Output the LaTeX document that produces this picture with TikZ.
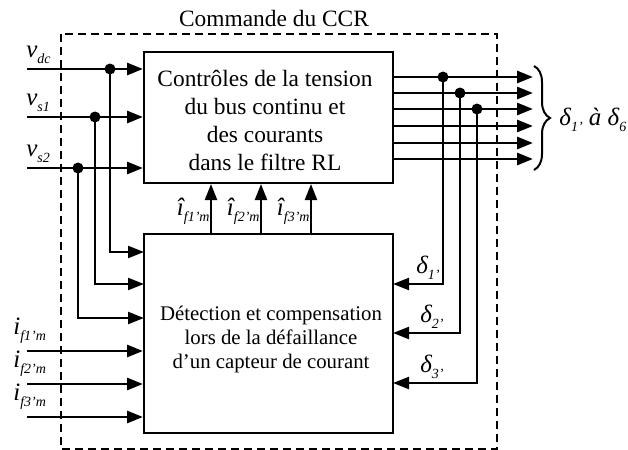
\documentclass[tikz,border=0pt]{standalone}
\usepackage{fontspec}
\setmainfont{Liberation Serif}
\usetikzlibrary{arrows.meta,decorations.pathreplacing,calc}
\newcommand\mysub[1]{\raisebox{-0.5ex}{\fontsize{7}{8}\selectfont\itshape #1}}
\begin{document}
\begin{tikzpicture}[x=0.5pt,y=-0.5pt,
  box/.style={draw,line width=1pt,minimum width=124.5pt,inner sep=0pt},
  txt/.style={inner sep=0pt,align=center},
  sig/.style={line width=1.4pt,-{Triangle[length=8pt,width=6pt]}},
  fb/.style={line width=1.1pt,-{Triangle[length=8pt,width=6pt]}},
  dot/.style={circle,fill,inner sep=0pt,minimum size=5.5pt},
  lab/.style={inner sep=0pt,font=\fontsize{12.5}{14}\selectfont\itshape},
  frame/.style={draw,line width=1pt,dash pattern=on 4pt off 2.5pt}
]
\useasboundingbox (0,0) rectangle (628,450);

% frame and title
\draw[frame] (61,34) rectangle (497,449);
\node[font=\fontsize{11.7}{13}\selectfont] (title) at (274,18) {Commande du CCR};

% blocks
\node[box,minimum height=65.5pt] (ctrl) at (268.5,117.5) {};
\node[txt,font=\fontsize{11.7}{14}\selectfont] (ctrltxt) at (265,120)
  {Contrôles de la tension\\du bus continu et\\des courants\\dans le filtre RL};
\node[box,minimum height=99.5pt] (det) at (268.5,333.5) {};
\node[txt,font=\fontsize{10.4}{12}\selectfont] (dettxt) at (271,339)
  {Détection et compensation\\lors de la défaillance\\d’un capteur de courant};

% voltage inputs
\coordinate (vdc) at (27,69);
\coordinate (vs1) at (27,117);
\coordinate (vs2) at (27,168);
\draw[sig] (vdc) -- (vdc -| ctrl.west);
\draw[sig] (vs1) -- (vs1 -| ctrl.west);
\draw[sig] (vs2) -- (vs2 -| ctrl.west);
\node[lab,anchor=south west] (lvdc) at (26,64) {v\mysub{dc}};
\node[lab,anchor=south west] (lvs1) at (26,112) {v\mysub{s1}};
\node[lab,anchor=south west] (lvs2) at (26,163) {v\mysub{s2}};

\node[dot] (dv1) at (110,69) {};
\node[dot] (dv2) at (95,117) {};
\node[dot] (dv3) at (78,168) {};
\coordinate (ev1) at (144,252);
\coordinate (ev2) at (144,284);
\coordinate (ev3) at (144,318);
\draw[fb] (dv1.center) |- (ev1);
\draw[fb] (dv2.center) |- (ev2);
\draw[fb] (dv3.center) |- (ev3);

% current inputs
\coordinate (if1) at (27,351);
\coordinate (if2) at (27,384);
\coordinate (if3) at (27,417);
\draw[sig] (if1) -- (if1 -| det.west);
\draw[sig] (if2) -- (if2 -| det.west);
\draw[sig] (if3) -- (if3 -| det.west);
\node[lab,anchor=south west] (lif1) at (13,344) {i\mysub{f1’m}};
\node[lab,anchor=south west] (lif2) at (13,377) {i\mysub{f2’m}};
\node[lab,anchor=south west] (lif3) at (13,410) {i\mysub{f3’m}};

% estimated currents
\coordinate (h1) at (211,0);
\coordinate (h2) at (261,0);
\coordinate (h3) at (311,0);
\draw[fb] (det.north -| h1) -- (ctrl.south -| h1);
\draw[fb] (det.north -| h2) -- (ctrl.south -| h2);
\draw[fb] (det.north -| h3) -- (ctrl.south -| h3);
\node[lab,anchor=south east] (lh1) at (210,225) {î\mysub{f1’m}};
\node[lab,anchor=south east] (lh2) at (260,225) {î\mysub{f2’m}};
\node[lab,anchor=south east] (lh3) at (310,225) {î\mysub{f3’m}};

% switching outputs
\coordinate (o1) at (533,77);
\coordinate (o2) at (533,93);
\coordinate (o3) at (533,109);
\coordinate (o4) at (533,126);
\coordinate (o5) at (533,143);
\coordinate (o6) at (533,159);
\foreach \k in {1,...,6}{\draw[sig] (ctrl.east |- o\k) -- (o\k);}
\node[dot] (do1) at (443,77) {};
\node[dot] (do2) at (460,93) {};
\node[dot] (do3) at (477,109) {};
\coordinate (ed1) at (393,284);
\coordinate (ed2) at (393,333);
\coordinate (ed3) at (393,383);
\draw[fb] (do1.center) |- (ed1);
\draw[fb] (do2.center) |- (ed2);
\draw[fb] (do3.center) |- (ed3);
\node[lab,anchor=south] (ld1) at (428,280) {δ\mysub{1’}};
\node[lab,anchor=south] (ld2) at (432,329) {δ\mysub{2’}};
\node[lab,anchor=south] (ld3) at (432,379) {δ\mysub{3’}};

% brace and output label
\draw[line width=1pt,decorate,decoration={brace,amplitude=8pt}] (534,66) -- (534,170);
\node[lab,anchor=west] (lout) at (559,120) {δ\mysub{1’} à δ\mysub{6’}};
\end{tikzpicture}
\end{document}
